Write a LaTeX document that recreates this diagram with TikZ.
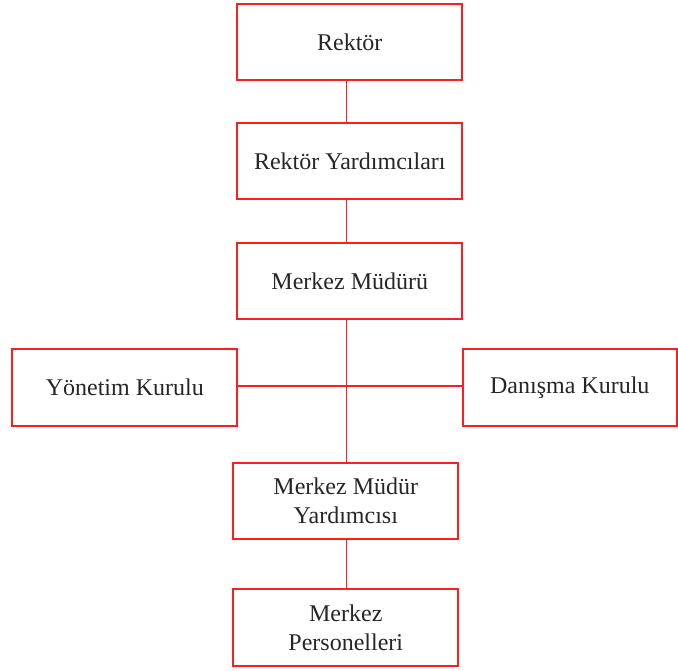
\documentclass[tikz,border=0pt]{standalone}
\usepackage{fontspec}
\setmainfont{Liberation Serif}
\usepackage{tikz}
\usepackage{xcolor}
\usetikzlibrary{positioning,calc}
\definecolor{orgred}{RGB}{255,30,30}

\begin{document}
\begin{tikzpicture}[
  unit/.style={draw=orgred,line width=0.9pt,minimum width=112.5pt,
               minimum height=38.2pt,align=center,inner sep=2pt,
               font=\fontsize{12}{14.5}\selectfont,text=black!85},
  link/.style={orgred,line width=0.9pt}]

\useasboundingbox (0,0) rectangle (339pt,-335pt);

% ------------- chain -------------
\node[unit] (rektor) at (174.9pt,-20.9pt) {Rektör};
\node[unit] (ryard)  at (174.9pt,-80.5pt) {Rektör Yardımcıları};
\node[unit] (mudur)  at (174.9pt,-140.5pt) {Merkez Müdürü};
\coordinate (hub) at (173.2pt,-193pt);

% ------------- boards -------------
\node[unit] (yonetim) at (62.4pt,-193.75pt) {Yönetim Kurulu};
\node[unit,minimum width=107.2pt] (danisma) at (284.9pt,-193.75pt) {Danışma Kurulu};

% ------------- lower -------------
\node[unit] (myard)    at (172.9pt,-250.4pt) {Merkez Müdür\\Yardımcısı};
\node[unit] (personel) at (172.9pt,-313.7pt) {Merkez\\Personelleri};

% links
\draw[link] (rektor.south -| hub) -- (ryard.north -| hub);
\draw[link] (ryard.south -| hub) -- (mudur.north -| hub);
\draw[link] (mudur.south -| hub) -- (myard.north -| hub);
\draw[link] (yonetim.east |- hub) -- (danisma.west |- hub);
\draw[link] (myard.south -| hub) -- (personel.north -| hub);

\end{tikzpicture}
\end{document}
